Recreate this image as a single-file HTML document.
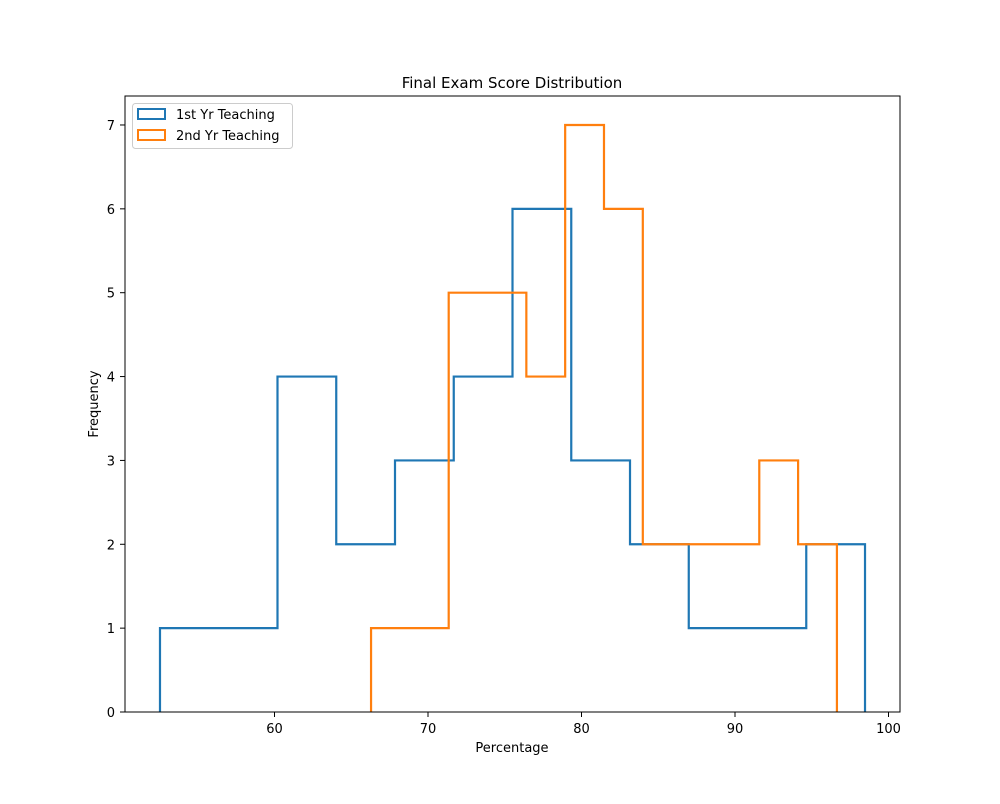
<!DOCTYPE html>
<html><head><meta charset="utf-8"><style>
body{margin:0;background:#fff;font-family:"DejaVu Sans","Liberation Sans",sans-serif;}
svg text{font-family:"DejaVu Sans","Liberation Sans",sans-serif;}
</style></head><body>
<svg id="chart" width="1000" height="800" xmlns="http://www.w3.org/2000/svg">
<rect width="1000" height="800" fill="#fff"/>
<text x="512" y="88" font-size="15" text-anchor="middle">Final Exam Score Distribution</text>
<g id="marks"></g>
<rect x="125" y="96" width="775" height="616" fill="none" stroke="#000" stroke-width="1"/>
<g id="axes"></g>
<text x="512" y="752" font-size="13" text-anchor="middle">Percentage</text>
<text x="98" y="404" font-size="13" text-anchor="middle" transform="rotate(-90 98 404)">Frequency</text>
<g>
<rect x="132.5" y="103.5" width="160" height="45" rx="3" fill="#fff" stroke="#ccc"/>
<rect x="138" y="109" width="27" height="10" fill="none" stroke="#1f77b4" stroke-width="2"/>
<text x="176" y="119" font-size="13">1st Yr Teaching</text>
<rect x="138" y="130" width="27" height="10" fill="none" stroke="#ff7f0e" stroke-width="2"/>
<text x="176" y="140" font-size="13">2nd Yr Teaching</text>
</g>
</svg>
<script>
const xTicks=[60,70,80,90,100];
const yTicks=[0,1,2,3,4,5,6,7];
const firstYrStart=52.54;
const firstYrEnd=98.47;
const firstYrCounts=[1,1,4,2,3,4,6,3,2,1,1,2];
const secondYrStart=66.29;
const secondYrEnd=96.64;
const secondYrCounts=[1,1,5,5,4,7,6,2,2,2,3,2];

const X=v=>428+(v-70)*15.35;
const Y=v=>712-v*83.86;
const NS="http://www.w3.org/2000/svg";
const axes=document.getElementById('axes');
const marks=document.getElementById('marks');
function mk(tag,attrs,parent){const e=document.createElementNS(NS,tag);for(const k in attrs)e.setAttribute(k,attrs[k]);parent.appendChild(e);return e;}
xTicks.forEach(t=>{
  const l=mk('line',{x1:X(t),x2:X(t),y1:712,y2:717,stroke:'#000'},axes);
  
  
  const tx=mk('text',{x:X(t),y:733,'font-size':13,'text-anchor':'middle'},axes);
  tx.textContent=t;
  
  
});
yTicks.forEach(t=>{
  const l=mk('line',{x1:120,x2:125,y1:Y(t),y2:Y(t),stroke:'#000'},axes);
  
  
  const tx=mk('text',{x:115,y:Y(t)+5,'font-size':13,'text-anchor':'end'},axes);
  tx.textContent=t;
  
  
});
function step(start,end,counts,color,name){
  const w=(end-start)/counts.length;
  let d='M'+X(start)+','+Y(0);
  counts.forEach((c,i)=>{d+=' L'+X(start+i*w)+','+Y(c)+' L'+X(start+(i+1)*w)+','+Y(c);});
  d+=' L'+X(end)+','+Y(0);
  const p=mk('path',{d:d,fill:'none',stroke:color,'stroke-width':2.2,'stroke-linejoin':'miter'},marks);
  
  
}
step(firstYrStart,firstYrEnd,firstYrCounts,'#1f77b4','histogram-1st-yr');
step(secondYrStart,secondYrEnd,secondYrCounts,'#ff7f0e','histogram-2nd-yr');
</script>
</body></html>
